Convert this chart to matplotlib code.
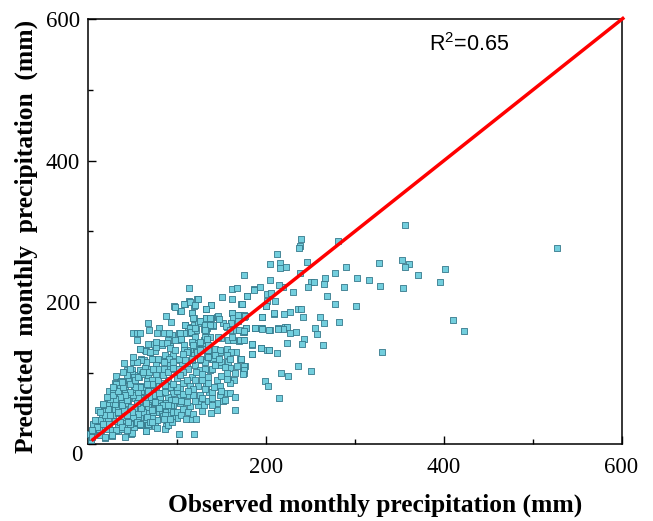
import matplotlib
matplotlib.use("Agg")
import matplotlib.pyplot as plt

plt.rcParams['font.family'] = ['Liberation Serif', 'DejaVu Serif']
plt.rcParams['mathtext.fontset'] = 'custom'
plt.rcParams['mathtext.rm'] = 'Liberation Sans'
plt.rcParams['mathtext.default'] = 'rm'

tail_points = [(356,309),(528,276),(240,289),(238,280),(237,276),(281,287),(213,268),(205,254),(216,256),(216,249),(223,250),(246,257),(290,250),(327,255),(353,260),(361,254),(356,250),(371,238),(402,247),(396,228),(411,175),(423,159),(331,129),(354,220),(328,223),(316,231),(302,234),(301,195),(288,221),(278,241),(267,234),(265,226),(251,229),(254,229),(247,222),(238,241),(230,214),(219,221),(215,224),(205,231),(194,222),(187,218),(175,239),(179,209),(173,197),(201,211),(206,213),(201,201),(210,201),(200,195),(269,209),(278,198),(227,186),(236,190),(239,190),(220,183),(209,183),(196,179),(242,179),(261,179),(265,170),(282,172),(255,164),(258,155),(234,158),(227,156),(221,165),(224,165),(219,162),(214,163),(205,161),(196,164),(188,164),(178,164),(176,158),(174,146),(243,148),(241,141),(264,140),(224,142),(185,141),(195,135),(201,132),(204,132),(213,128),(184,127),(236,110),(251,103),(217,100),(225,95),(177,110),(174,103),(175,100),(199,88),(202,81),(172,119),(215,64)]

upper_points = [(114,220),(162,219),(168,220),(187,217),(123,205),(151,208),(162,205),(179,209),(114,201),(109,197),(119,195),(97,194),(104,187),(172,197),(117,185),(138,196),(133,191),(88,181),(93,172),(119,177),(133,178),(127,174),(138,177),(145,179),(162,184),(171,182),(176,182),(152,170),(68,171),(69,160),(80,164),(51,156),(55,157),(59,157),(55,146),(78,156),(86,157),(94,153),(103,155),(112,157),(115,165),(109,167),(119,167),(131,162),(141,166),(156,165),(161,170),(167,160),(174,158),(188,164),(195,163),(204,160),(214,162),(185,140),(184,127),(195,135),(204,133)]

middle_points = [(32,96),(40,114),(24,74),(30,85),(36,87),(45,90),(49,104),(52,115),(60,119),(63,118),(73,119),(58,134),(70,130),(64,133),(75,131),(68,141),(74,141),(83,139),(92,138),(90,147),(98,146),(105,146),(108,132),(115,131),(122,137),(127,141),(130,147),(137,151),(120,142),(150,150),(158,146),(163,147),(170,145),(156,134),(148,130),(143,134),(135,125),(128,118),(120,111),(111,113),(103,118),(96,125),(89,122),(83,118),(77,111),(68,106),(59,101),(53,97),(59,134),(65,131),(70,130),(76,136),(76,143),(83,142),(89,142),(92,135),(98,133),(91,156),(102,156),(79,120),(87,125),(91,120),(85,116),(92,111),(79,106),(87,104),(96,116),(100,106),(65,116),(60,118),(51,116),(44,104),(50,99),(59,104),(64,107),(72,119),(57,94),(68,94),(77,97),(47,94),(106,113),(113,132),(121,142),(128,138),(132,116),(126,104),(137,104),(134,125),(139,120),(119,125),(111,130),(108,139),(117,156),(124,170),(130,174),(134,163),(141,167),(113,163),(121,161),(132,151),(109,167),(158,115),(167,130),(161,130),(141,120),(148,111),(132,106),(117,118),(113,106),(102,106),(92,106),(85,106),(133,132),(123,130),(150,115),(143,112),(139,105),(171,119),(176,109),(175,104),(174,99),(160,107)]

lower_points = [(164,90),(157,91),(160,85),(156,71),(160,71),(165,66),(149,68),(136,73),(145,58),(145,48),(165,48),(138,43),(128,46),(124,55),(115,53),(107,49),(116,35),(102,14),(119,14),(100,36),(89,31),(88,25),(65,17),(48,14),(42,9),(83,40),(78,33),(68,25),(60,26),(52,24),(103,78),(96,71),(90,66),(103,66),(111,68),(118,68),(111,59),(103,57),(96,54),(124,82),(133,82),(145,90),(148,82),(115,82),(107,85),(117,94),(128,99),(135,94),(122,101),(107,101),(100,92),(90,90),(83,85),(77,78),(72,71),(66,64),(72,57),(79,54),(85,49),(92,45),(81,45)]

dense_points = [(46,90),(52,94),(61,99),(37,89),(32,84),(36,78),(28,73),(34,67),(42,76),(47,71),(40,64),(45,61),(53,64),(59,70),(64,73),(70,66),(17,54),(23,57),(28,57),(19,46),(25,47),(30,48),(36,54),(42,57),(21,40),(28,40),(34,43),(55,54),(61,57),(68,54),(75,59),(81,61),(88,57),(93,61),(12,33),(17,33),(23,33),(6,26),(13,26),(19,26),(8,17),(15,19),(23,21),(27,19),(34,26),(42,24),(34,17),(27,10),(19,8),(49,15),(65,18),(54,29),(60,26),(67,28),(87,20),(90,26),(84,39),(74,45),(68,43),(60,38),(43,33),(49,38),(38,38),(55,45),(62,47),(81,50),(88,45),(94,36),(93,47),(93,55),(2,14),(3,5),(4,9),(10,24),(10,14),(14,12),(6,18),(30,32),(36,30),(46,44),(52,50),(58,60),(64,62),(70,80),(76,84),(82,72),(88,78),(94,82),(100,74),(58,82),(52,76),(44,68),(38,58),(30,62),(26,66),(66,88),(72,90),(60,74),(34,50),(41,47),(48,52),(56,66),(75,68),(80,62),(84,54),(90,40),(72,38),(77,45),(65,35),(56,34),(47,27),(38,20),(24,28),(16,40),(12,20)]

band_points = [(98,193),(108.5,198),(115,200),(120.5,195.6),(117.5,184.7),(104.7,187),(123.5,205),(138.5,196),(132.5,191),(173,198),(118.5,177),(126,173.6),(132.5,177),(137,177),(146,180),(147.3,176),(131.5,167.4),(137,167.4),(132.5,159),(161.9,184),(162.7,177),(168.5,182),(175,179),(177,181),(161,170),(155,166),(169,174),(170,161),(177.5,164),(176,159),(195.6,178.6),(195.6,162.7),(209,184),(200,194.6),(115,164),(116,158),(120.5,163),(107.5,156),(104,157),(105,148.5),(120.5,151),(131.5,160),(133.5,148.5),(126,144),(117,144),(107.5,132),(111,130),(118.5,139),(128,134),(135,139),(146,151),(162,151),(160,160),(171,146),(175,146),(185,140.6),(172,119),(156,125),(149,132),(143,125),(135.5,132),(126,132),(135.5,123),(126,120),(117,120),(109,118),(102,120),(107,127),(147,120),(143,111),(154,108.5),(160,120)]

low_band_points = [(13.5,33),(19,40),(17,28),(24.7,40),(23,49),(30,56.5),(34,45),(38,54),(43.4,61),(51,68),(56.5,73),(62,80),(68,75),(73.4,82.4),(79,89.5),(84.6,96.5),(90,101),(96,107),(103.4,96.5),(92,80),(86.5,73),(81,66),(75,59),(68,52),(62,45),(56.5,42.4),(51,37.7),(45,30.6),(38,23.5),(32,19),(26.6,11.8),(19,9.4),(43.4,19),(54.7,30.6),(66,37.7),(73.4,44.7),(86.5,40),(96,44.7),(107,70.6),(118,77.7),(126,68),(131.5,77.7),(139,73),(156,91.8),(120,89.5),(128,89.5),(111,89.5),(99.6,80),(96,84.7),(86.5,82.4),(71.5,84.7),(66,84.7),(58.4,80),(52.8,80),(47,73),(41.6,68),(36,66),(30,63.6),(24.7,63.6),(17,54),(11.6,47),(6,28),(9.7,23.5),(4,19),(28.5,68),(34,75),(39.7,80),(47,84.7),(52.8,89.5),(56.5,94),(62,101),(68.6,101),(73.4,106),(43.4,96.5),(38,87),(28.5,80),(21,66),(17.2,56.5),(13.5,45),(8,33),(39.7,101),(47,106),(54.7,115),(51,122)]

gap_points = [(70,30),(75,25),(80,50),(85,35),(95,30),(100,45),(105,40),(110,35),(112,45),(118,42),(122,35),(125,60),(130,55),(135,60),(140,55),(140,65),(150,75),(152,60),(154,62),(105,60),(112,75),(120,60),(128,65),(135,85),(142,80),(150,95),(156,100),(165,100),(168,110),(80,72),(90,55),(98,62),(60,50),(65,58),(72,48),(55,58),(50,45),(58,28),(72,30),(44,40),(78,22),(92,35)]

all_points = tail_points + upper_points + middle_points + lower_points + dense_points + band_points + low_band_points + gap_points
obs_mm = [p[0] for p in all_points]
pred_mm = [p[1] for p in all_points]

line_obs = [4, 603]
line_pred = [4, 603]
major_ticks = [0, 200, 400, 600]
major_labels = ['', '200', '400', '600']
minor_ticks = [100, 300, 500]

fig = plt.figure(figsize=(6.53, 5.21), dpi=100)
ax = fig.add_axes([88/653, 1-443.5/521, (621.5-88)/653, (443.5-19.5)/521])
ax.scatter(obs_mm, pred_mm, s=13, marker='s', facecolor='#72CEDD', edgecolor='#35798B', linewidth=0.6, zorder=3, clip_on=False)
ax.plot(line_obs, line_pred, color='#FF0000', lw=2.5, zorder=4, clip_on=False, solid_capstyle='butt')
ax.set_xlim(0, 600)
ax.set_ylim(0, 600)
ax.set_xticks(major_ticks)
ax.set_xticklabels(major_labels)
ax.set_yticks(major_ticks)
ax.set_yticklabels(major_labels)
ax.set_xticks(minor_ticks, minor=True)
ax.set_yticks(minor_ticks, minor=True)
ax.tick_params(which='major', direction='in', length=6, width=1.0, labelsize=16.5, pad=6)
ax.tick_params(axis='x', which='major', pad=9.5)
ax.tick_params(which='minor', direction='in', length=3.5, width=1.0)
for s in ax.spines.values():
    s.set_linewidth(1.1)
ax.annotate('0', xy=(0, 0), xytext=(-8, -8.5), textcoords='offset points', ha='center', va='center', fontsize=16.5)
ax.text(0.64, 0.942, 'R$^2$=0.65', transform=ax.transAxes, family='Liberation Sans', fontsize=15.5, va='center', ha='left')
fig.text(375.5/653, 1-505/521, 'Observed monthly precipitation (mm)', ha='center', va='center', fontsize=18.4, fontweight='bold')
fig.text(26/653, 1-236/521, 'Predicted  monthly  precipitation  (mm)', ha='center', va='center', rotation=90, fontsize=18.4, fontweight='bold')
fig.savefig('out.png', dpi=100)
